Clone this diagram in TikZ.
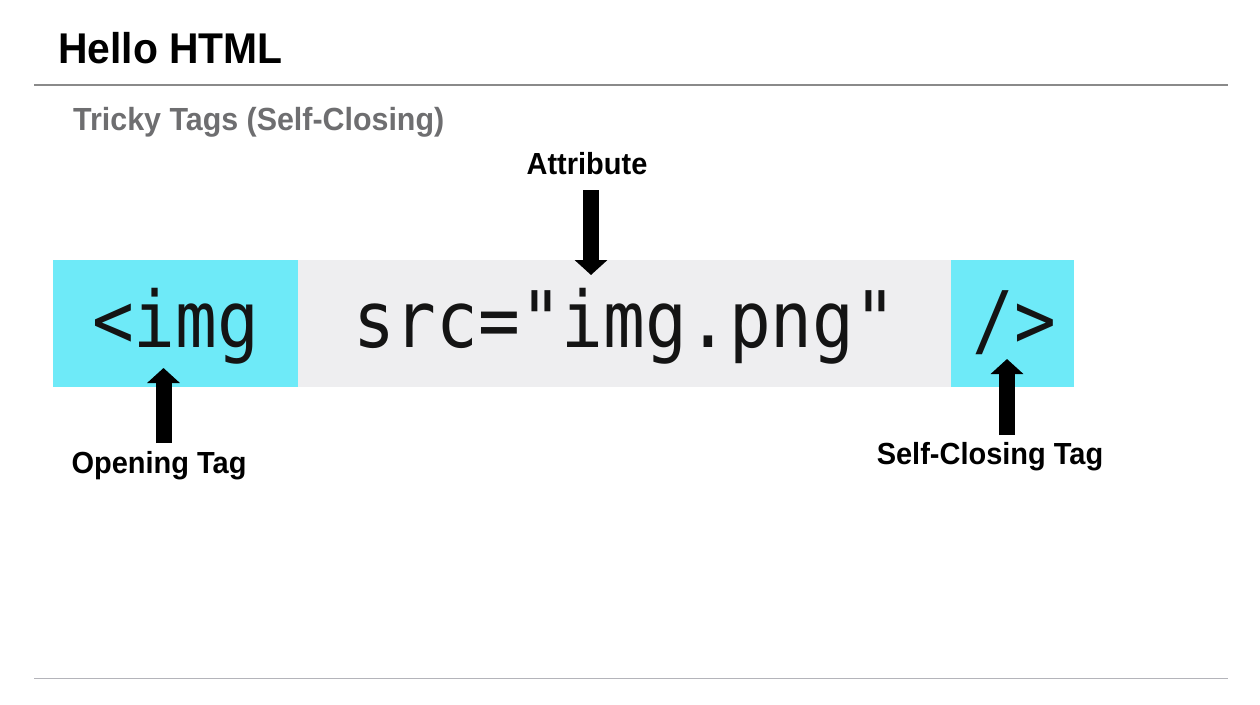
\documentclass[tikz,border=0pt]{standalone}
\usepackage{fontspec}
\setmainfont{Liberation Sans}
\newfontfamily\sansb[FakeStretch=0.95]{Liberation Sans Bold}
\newfontfamily\codefont[FakeStretch=0.89]{DejaVu Sans Mono}
\usetikzlibrary{arrows.meta}
\definecolor{tagcyan}{HTML}{6EEAF8}
\definecolor{attrgray}{HTML}{EEEEF0}
\definecolor{subgray}{HTML}{6E6E70}
\definecolor{rulegray}{HTML}{8A8A8A}
\definecolor{rulelight}{HTML}{B4B4BA}
\definecolor{codeblack}{HTML}{141414}
\begin{document}
\begin{tikzpicture}[x=1pt,y=-1pt,
  tagbox/.style={fill=tagcyan, draw=none, minimum height=127pt, inner sep=0pt, anchor=north west},
  attrbox/.style={fill=attrgray, draw=none, minimum height=127pt, inner sep=0pt, anchor=north west},
  codetext/.style={anchor=base, inner sep=0pt, text=codeblack, font=\codefont\fontsize{78}{80}\selectfont},
  lbl/.style={anchor=base, inner sep=0pt, font=\sansb\fontsize{30.5}{32}\selectfont},
  blockarrow/.style={line width=16pt, -{Triangle[width=32pt,length=15pt]}, black}
]
\path[use as bounding box, fill=white] (0,0) rectangle (1260,704);

% title and rules
\node[anchor=base west, inner sep=0pt, font=\sansb\fontsize{43}{45}\selectfont] (title) at (58,63) {Hello HTML};
\draw[rulegray, line width=1.5pt] (34,85) -- (1228,85);
\node[anchor=base west, inner sep=0pt, text=subgray, font=\sansb\fontsize{32}{34}\selectfont] (sub) at (73,130) {Tricky Tags (Self-Closing)};
\draw[rulelight, line width=1pt] (34,678) -- (1228,678);

% boxes
\node[tagbox, minimum width=245pt] (open) at (53,260) {};
\node[attrbox, minimum width=653pt] (attr) at (298,260) {};
\node[tagbox, minimum width=123pt] (close) at (951,260) {};

\coordinate (codebase) at (0,347);
\node[codetext] (opentxt) at (open.center |- codebase) {<img};
\node[codetext] (attrtxt) at (attr.center |- codebase) {src="img.png"};
\node[codetext] (closetxt) at (1014,347) {/>};

% labels
\node[lbl] (attrlbl) at (587,174) {Attribute};
\node[lbl] (openlbl) at (159,473) {Opening Tag};
\node[lbl] (closelbl) at (990,464) {Self-Closing Tag};

% arrows
\coordinate (a1s) at (591,190);
\coordinate (a1e) at (591,275);
\coordinate (a2s) at (163.5,443);
\coordinate (a2e) at (163.5,368);
\coordinate (a3s) at (1007,435);
\coordinate (a3e) at (1007,359);
\draw[blockarrow] (a1s) -- (a1e);
\draw[blockarrow] (a2s) -- (a2e);
\draw[blockarrow] (a3s) -- (a3e);
\end{tikzpicture}
\end{document}
